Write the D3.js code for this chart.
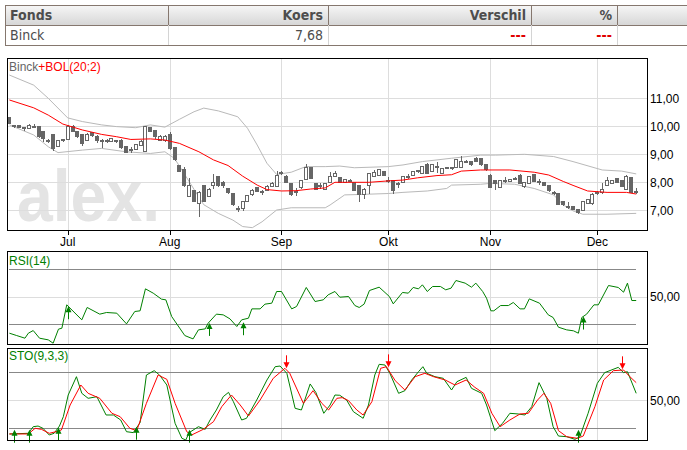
<!DOCTYPE html>
<html lang="nl">
<head>
<meta charset="utf-8">
<title>Binck</title>
<style>
  body { margin: 0; background: #fff; }
  svg text { font-family: "Liberation Sans", Arial, sans-serif; }
</style>
</head>
<body>
<svg id="chart" width="687" height="450"></svg>
<script src="https://cdn.jsdelivr.net/npm/d3@7"></script>
<script>
// ---- data ----
const tableHead = ["Fonds", "Koers", "Verschil", "%"];
const tableRow = ["Binck", "7,68", "---", "---"];

const monthLabels = ["Jul", "Aug", "Sep", "Okt", "Nov", "Dec"];
const monthStart = [12, 33, 56, 78, 99, 121];   // trading-day index of the 1st of the month

const open = [10.31,10.02,10.04,9.94,9.92,10.0,9.98,9.83,9.48,9.69,9.27,9.5,9.53,10.01,9.83,9.71,9.51,9.78,9.65,9.5,
  9.47,9.47,9.48,9.51,9.27,9.15,9.17,9.33,9.09,9.95,9.86,9.51,9.51,9.72,9.24,8.6,8.45,7.49,7.69,7.25,
  7.9,7.49,7.88,8.2,8.0,7.78,7.6,7.08,7.07,7.33,7.55,7.81,7.67,7.72,7.84,7.84,8.3,8.22,7.96,7.66,
  7.8,8.1,8.52,7.96,7.9,7.76,8.0,8.22,8.17,8.0,8.08,8.0,7.9,7.55,7.88,8.2,8.26,8.38,8.06,8.08,
  7.95,8.0,8.2,8.26,8.4,8.32,8.62,8.38,8.58,8.32,8.52,8.52,8.52,8.52,8.74,8.74,8.86,8.86,8.64,8.26,
  8.08,7.81,8.08,8.02,8.14,8.26,7.84,7.96,8.28,8.04,8.0,7.9,7.65,7.6,7.31,7.14,7.13,7.04,7.01,7.25,
  7.25,7.6,7.63,7.9,7.96,8.14,8.08,7.76,8.17,7.66];
const high = [10.34,10.03,10.05,9.95,10.08,10.08,9.99,9.85,9.55,9.7,9.52,9.55,10.03,10.03,9.85,9.73,9.75,9.8,9.68,9.53,
  9.55,9.6,9.52,9.53,9.29,9.25,9.37,9.5,10.02,9.97,9.88,9.68,9.68,9.8,9.26,8.62,8.55,8.14,7.72,7.7,
  7.92,7.8,8.28,8.24,8.05,7.8,7.62,7.17,7.35,7.55,7.75,7.84,7.72,7.9,8.0,8.4,8.4,8.26,7.98,7.78,
  8.1,8.65,8.55,7.98,7.96,7.98,8.38,8.4,8.2,8.12,8.12,8.02,7.92,7.78,8.32,8.45,8.48,8.4,8.2,8.1,
  8.0,8.24,8.3,8.42,8.45,8.6,8.68,8.64,8.72,8.5,8.56,8.56,8.82,8.95,8.78,8.76,8.9,8.88,8.66,8.28,
  8.1,8.1,8.2,8.13,8.2,8.28,8.02,8.22,8.3,8.12,8.02,7.92,7.7,7.62,7.33,7.3,7.15,7.06,7.33,7.4,
  7.62,7.7,7.98,8.2,8.1,8.16,8.1,8.26,8.19,7.78];
const low = [10.08,9.95,9.93,9.83,9.9,9.97,9.6,9.45,9.4,9.12,9.25,9.45,9.5,9.8,9.6,9.3,9.48,9.62,9.4,9.24,
  9.42,9.45,9.42,9.2,9.04,9.05,9.15,9.3,9.07,9.8,9.55,9.48,9.45,9.15,8.75,8.36,7.85,7.47,7.28,6.77,
  7.3,7.47,7.75,7.85,7.8,7.6,7.15,6.95,6.98,7.3,7.52,7.64,7.55,7.7,7.82,7.82,8.25,7.98,7.52,7.52,
  7.75,8.08,8.12,7.74,7.75,7.74,7.98,8.2,7.98,7.98,8.0,7.7,7.28,7.42,7.6,8.18,8.24,8.24,7.98,7.6,
  7.8,7.98,8.12,8.24,8.33,8.3,8.3,8.36,8.32,8.3,8.46,8.45,8.5,8.5,8.68,8.6,8.72,8.6,8.42,7.78,
  7.72,7.78,7.98,8.0,8.08,7.94,7.78,7.94,8.02,7.9,7.86,7.67,7.55,7.18,7.17,7.05,7.02,6.86,6.99,7.23,
  7.2,7.55,7.6,7.88,7.94,7.98,7.84,7.74,7.62,7.6];
const close = [10.11,10.0,9.95,9.93,10.02,10.01,9.63,9.57,9.47,9.22,9.51,9.52,10.01,9.83,9.63,9.39,9.71,9.66,9.51,9.49,
  9.48,9.57,9.49,9.24,9.07,9.17,9.35,9.47,9.98,9.83,9.63,9.65,9.65,9.21,8.83,8.38,7.88,7.9,7.31,7.64,
  7.33,7.75,8.0,7.9,7.88,7.62,7.19,7.07,7.33,7.52,7.72,7.66,7.66,7.86,7.96,8.26,8.35,8.0,7.55,7.67,
  8.08,8.52,8.14,7.76,7.88,7.96,8.2,8.31,8.0,8.1,8.07,7.72,7.57,7.76,8.3,8.36,8.44,8.26,8.05,7.69,
  7.94,8.22,8.2,8.4,8.41,8.58,8.32,8.62,8.57,8.48,8.53,8.52,8.8,8.74,8.74,8.62,8.74,8.62,8.44,7.81,
  7.96,8.08,8.07,8.11,8.13,7.96,8.0,8.2,8.04,8.03,7.88,7.69,7.64,7.21,7.19,7.13,7.04,6.93,7.31,7.37,
  7.58,7.65,7.74,8.08,8.08,8.0,7.86,8.2,7.64,7.68];

// Bollinger (20;2): [day index, value]
const bolUpper = [[0,11.83],[5,11.47],[8,11.0],[12,10.3],[15,10.17],[19,10.05],[22,9.99],[26,9.95],[29,10.05],[32,9.97],
  [35,10.25],[38,10.52],[40,10.65],[43,10.55],[47,10.34],[49,9.93],[51,9.33],[53,8.68],[55,8.28],[58,8.36],[61,8.56],
  [65,8.56],[68,8.58],[71,8.52],[78,8.56],[81,8.62],[85,8.74],[91,8.86],[97,8.97],[100,8.97],[106,9.0],[112,8.92],
  [116,8.74],[122,8.44],[126,8.4],[129,8.3]];
const bolMiddle = [[0,10.94],[5,10.66],[8,10.4],[11,10.08],[15,9.87],[19,9.71],[22,9.63],[25,9.53],[29,9.55],[32,9.51],
  [35,9.39],[39,9.09],[42,8.8],[45,8.6],[48,8.22],[51,7.9],[53,7.74],[56,7.69],[59,7.7],[62,7.76],[65,7.8],[67,8.0],
  [71,8.0],[74,8.0],[78,8.05],[81,8.08],[84,8.16],[88,8.24],[91,8.27],[93,8.4],[97,8.44],[103,8.44],[108,8.36],
  [111,8.26],[114,8.03],[116,7.89],[119,7.69],[123,7.64],[127,7.64],[129,7.58]];
const bolLower = [[0,10.05],[5,9.69],[8,9.27],[10,9.06],[15,9.15],[19,9.21],[24,9.09],[29,9.03],[32,9.09],[34,8.85],
  [36,8.3],[38,7.75],[40,7.2],[43,6.89],[46,6.65],[48,6.42],[50,6.38],[52,6.59],[55,7.01],[58,7.09],[65,7.09],[66,7.19],
  [69,7.55],[73,7.57],[78,7.6],[81,7.64],[86,7.69],[90,7.78],[91,7.9],[97,7.93],[99,7.96],[104,7.93],[108,7.78],
  [112,7.55],[114,7.19],[116,6.98],[118,6.86],[123,6.86],[129,6.89]];

// RSI(14): [day index, value]
const rsi = [[0,23.6],[1.5,21.9],[3.2,20],[3.9,23.6],[4.9,25.5],[6.2,20],[8,18.8],[9,16.4],[10.1,26.5],[10.8,27.2],
  [11.8,44],[14.9,33.2],[16,42.1],[18.6,37.3],[20,38.5],[22.1,38],[24.1,30.3],[25.8,39.2],[26.9,39.7],[28,55.5],
  [29.6,52.4],[31.3,48.1],[32.2,47.6],[33.4,35.6],[36.1,21.9],[37.8,19.5],[38.9,26],[40.3,26.7],[40.9,30.8],[42.6,37.3],
  [44,36.8],[45.4,33.9],[46.8,28.4],[47.8,33.2],[49.2,34.4],[49.9,41.1],[51.6,41.1],[52.6,44.5],[54,45.2],[55,53.6],
  [56,53.6],[58.1,41.1],[59.1,42.8],[61.1,56.5],[62.9,46.4],[64.6,47.6],[65.6,51.2],[67,53.6],[68,49.5],[69.8,50],
  [71.1,43.5],[72,42.1],[73,44.5],[74.1,54.3],[76.1,56.7],[78.2,50],[79,44.7],[80.9,52.9],[82.1,52.4],[83.1,56.5],
  [84.2,55.5],[85,58.4],[86,53.6],[87.1,57.2],[88.7,57.2],[89.8,54.8],[90.9,56],[91.9,61.5],[93.8,59.6],[95.1,56.7],
  [96,59.6],[97.4,53.6],[98.2,48.8],[99.1,39.7],[99.7,39.7],[101.1,43.5],[102.7,43.5],[103.7,45.7],[105.1,41.1],
  [106,41.1],[107,48.3],[109.1,45.2],[110.9,36.8],[111.9,34.9],[113,27.9],[114.7,26],[116.1,25.3],[117.1,23.6],
  [117.8,34.9],[118.8,37.3],[120.3,44],[121.2,44],[123.3,57.9],[125.3,56.5],[126.4,53.1],[127.2,59.6],[128.1,47.1],[129,47.1]];
const rsiBuy = [[12,43],[41,31],[48,31.5],[118,35.6]];

// STO(9,3,3): %K green, %D red
const stoK = [[0,14],[3.9,14.7],[4.9,21.7],[5.9,22.4],[6.9,20],[8.2,12.9],[9.2,14.7],[10.3,22.4],[11.1,32.3],[12.1,55.3],
  [13.8,74.7],[14.9,57.1],[16.2,51.8],[18,53.5],[19.9,34.1],[21.4,34.1],[22.9,28.8],[24.1,16.4],[25.5,15.4],[26.9,26],
  [28.2,76.5],[29.8,81.1],[30.9,76.5],[32.4,65.9],[34.1,25.3],[35.5,9.4],[36.3,7.6],[37,15.4],[38.9,21.7],[40.3,18.9],
  [41.3,28.8],[42.6,39.4],[44,53.5],[45.1,58.1],[46.1,48.2],[47.8,28.8],[48.8,30.6],[50.9,50],[53,71.2],[54.7,85.3],
  [55.7,86],[57.1,78.3],[58.8,41.2],[60.1,39.4],[61.9,67],[63.1,57.8],[64.7,35.9],[66,44.7],[67,55.3],[68,55],
  [69.4,50],[70.8,37.6],[72.8,30.6],[73.9,44.7],[75.2,76.5],[76.1,87.8],[77.3,87.1],[78.3,78.3],[80.1,57.1],[81.4,59.9],
  [82.8,71.2],[84.2,80],[85.1,85.3],[85.9,78.3],[87.6,74.7],[89.3,73],[91,60.6],[92.1,69.4],[94,74],[95.1,62.4],
  [97.2,57.1],[98.2,44.7],[99.9,17.5],[101.5,25.3],[103,35.9],[104.7,35.2],[106.1,34.1],[107.5,42.9],[109,68.4],
  [110.6,51.8],[111.9,21.7],[113,11.8],[114.7,11.1],[116.4,8.3],[117.4,11.1],[119.1,35.9],[121,67.7],[122.5,79],
  [125.3,84.6],[126.4,79],[127.2,80],[129,57.1]];
const stoD = [[0,14],[3.9,14],[5.3,20],[6.6,18.9],[8.2,14.7],[9.6,16.4],[10.7,18.2],[12.5,44.7],[14.7,65.9],[16.2,57.1],
  [18.6,51.8],[21.1,35.9],[22.8,32.3],[24.8,20],[26.2,17.5],[28.2,46.5],[30.6,76.5],[32.4,71.9],[34.1,46.5],[36.5,16.4],
  [37.5,12.9],[39.9,18.9],[42,27],[43.7,42.9],[45.7,55.3],[47.5,44.7],[49.2,33],[51.6,50],[54.3,73],[56.7,83.6],
  [57.7,78.3],[60.5,46.5],[62.5,59.9],[64.3,46.5],[65.7,39.4],[67.4,51.8],[68.5,52.5],[69.8,49.3],[71.5,39.4],[72.8,34.1],
  [74.6,48.2],[76.4,83.6],[77.6,85.3],[79.4,70.5],[81.4,60.6],[83.5,74.7],[85.5,78.3],[87.3,74.7],[89.7,71.2],[91.7,65.9],
  [94,71.2],[95.8,63.4],[97.6,57.1],[99.3,35.9],[101,21.7],[103,28.8],[105.1,35.2],[106.8,35.9],[108.7,50],[110,57.1],
  [111.4,46.5],[113,17.5],[114.7,11.1],[116.9,9.4],[118.1,11.8],[120.5,42.9],[122.3,71.2],[124.3,81.1],[126.4,81.8],
  [127.7,74.7],[129,68.4]];
const stoBuy = [[1,18.5],[4,18.5],[10,20.5],[26,21.7],[37,18.5],[117,18.5]];
const stoSell = [[57,83.6],[78,84.6],[126,82.5]];

// ---- layout ----
const svg = d3.select("#chart");
const left = 7, right = 648;
const main = {top: 58, bottom: 231};
const pRsi = {top: 251, bottom: 345};
const pSto = {top: 348, bottom: 441};

const x = d3.scaleLinear().domain([0, 129]).range([9.4, 636.2]);
const y = d3.scaleLinear().domain([7, 11]).range([210.3, 98.3]);
const yRsi = d3.scaleLinear().domain([30, 70]).range([324.3, 268.7]);
const ySto = d3.scaleLinear().domain([20, 80]).range([428.3, 371.7]);

const nl = d3.formatLocale({decimal: ",", thousands: ".", grouping: [3], currency: ["€", ""]});
const fmt = nl.format(".2f");

// ---- table ----
const cols = [5, 168, 328, 531, 617, 700];
const tTop = 5, tMid = 25, tBot = 45;
const defs = svg.append("defs");
const grad = defs.append("linearGradient").attr("id", "hdr").attr("x1", 0).attr("y1", 0).attr("x2", 0).attr("y2", 1);
grad.append("stop").attr("offset", "0%").attr("stop-color", "#f6f6f6");
grad.append("stop").attr("offset", "100%").attr("stop-color", "#d6d6d6");

const tbl = svg.append("g").attr("shape-rendering", "crispEdges");
tbl.append("rect").attr("x", cols[0] + 0.5).attr("y", tTop + 0.5).attr("width", 700).attr("height", tMid - tTop)
  .attr("fill", "url(#hdr)");
tbl.append("rect").attr("x", cols[0] + 0.5).attr("y", tTop + 0.5).attr("width", 700).attr("height", tBot - tTop)
  .attr("fill", "none").attr("stroke", "#85776e");
tbl.append("line").attr("x1", cols[0]).attr("x2", 687).attr("y1", tMid + 0.5).attr("y2", tMid + 0.5).attr("stroke", "#85776e");
cols.slice(1, 5).forEach(c => {
  tbl.append("line").attr("x1", c + 0.5).attr("x2", c + 0.5).attr("y1", tTop).attr("y2", tMid).attr("stroke", "#85776e");
  tbl.append("line").attr("x1", c + 0.5).attr("x2", c + 0.5).attr("y1", tMid).attr("y2", tBot).attr("stroke", "#d4d4d4");
});
const tFont = '"Liberation Sans Narrow", "Arial Narrow", "DejaVu Sans Condensed", sans-serif';
tableHead.forEach((t, k) => {
  const a = k === 0;
  svg.append("text").attr("x", a ? cols[0] + 5 : cols[k + 1] - 5).attr("y", 20)
    .attr("text-anchor", a ? "start" : "end").style("font-family", tFont)
    .attr("font-size", 14).attr("font-weight", "bold").attr("fill", "#4d4d4d").text(t);
});
tableRow.forEach((t, k) => {
  const a = k === 0;
  svg.append("text").attr("x", a ? cols[0] + 5 : cols[k + 1] - 5).attr("y", 40)
    .attr("text-anchor", a ? "start" : "end").style("font-family", tFont)
    .attr("font-size", 14).attr("font-weight", k >= 2 ? "bold" : "normal")
    .attr("fill", k >= 2 ? "#e00000" : "#4d4d4d").text(t);
});

// ---- panel frames / grids ----
function panel(p, yTicks, ys) {
  const g = svg.append("g").attr("shape-rendering", "crispEdges");
  g.selectAll(".vg").data(monthStart).join("line")
    .attr("x1", d => Math.round(x(d)) + 0.5).attr("x2", d => Math.round(x(d)) + 0.5)
    .attr("y1", p.top).attr("y2", p.bottom).attr("stroke", "#dddddd");
  g.selectAll(".hg").data(yTicks).join("line")
    .attr("x1", left).attr("x2", right)
    .attr("y1", d => Math.round(ys(d)) + 0.5).attr("y2", d => Math.round(ys(d)) + 0.5)
    .attr("stroke", "#dddddd");
  return g;
}
function frame(p) {
  svg.append("rect").attr("x", left + 0.5).attr("y", p.top + 0.5)
    .attr("width", right - left - 1).attr("height", p.bottom - p.top - 1)
    .attr("fill", "none").attr("stroke", "#000").attr("shape-rendering", "crispEdges");
}
function yLabels(vals, ys) {
  svg.append("g").selectAll("text").data(vals).join("text")
    .attr("x", right + 2).attr("y", d => ys(d) + 4.5)
    .attr("font-size", 12).attr("fill", "#000").text(d => fmt(d));
}

// main panel
svg.append("text").attr("x", 17).attr("y", 221).attr("font-size", 72).attr("font-weight", "bold")
  .attr("fill", "#e4e4e4").attr("textLength", 143).attr("lengthAdjust", "spacingAndGlyphs")
  .style("font-family", "Arial, 'Liberation Sans', sans-serif").text("alex.");
panel(main, [7, 8, 9, 10, 11], y);

defs.append("clipPath").attr("id", "clipMain").append("rect")
  .attr("x", left).attr("y", main.top).attr("width", right - left).attr("height", main.bottom - main.top);
const gm = svg.append("g").attr("clip-path", "url(#clipMain)");

const band = d3.line().x(d => x(d[0])).y(d => y(d[1]));
gm.append("path").attr("d", band(bolUpper)).attr("fill", "none").attr("stroke", "#b9b9b9");
gm.append("path").attr("d", band(bolLower)).attr("fill", "none").attr("stroke", "#b9b9b9");

const candles = d3.range(close.length);
const gc = gm.append("g").attr("shape-rendering", "crispEdges");
gc.selectAll("line").data(candles).join("line")
  .attr("x1", i => Math.round(x(i)) + 0.5).attr("x2", i => Math.round(x(i)) + 0.5)
  .attr("y1", i => y(high[i])).attr("y2", i => y(low[i])).attr("stroke", "#666");
gc.selectAll("rect").data(candles).join("rect")
  .attr("x", i => Math.round(x(i)) - 1.5)
  .attr("y", i => y(Math.max(open[i], close[i])))
  .attr("width", 3)
  .attr("height", i => Math.max(1, y(Math.min(open[i], close[i])) - y(Math.max(open[i], close[i]))))
  .attr("fill", i => close[i] >= open[i] ? "#fff" : "#666")
  .attr("stroke", "#666");

gm.append("path").attr("d", band(bolMiddle)).attr("fill", "none").attr("stroke", "#ff0000");

frame(main);
svg.append("g").selectAll("line").data(monthStart).join("line")
  .attr("x1", d => Math.round(x(d)) + 0.5).attr("x2", d => Math.round(x(d)) + 0.5)
  .attr("y1", main.bottom).attr("y2", main.bottom + 4).attr("stroke", "#000").attr("shape-rendering", "crispEdges");
svg.append("g").selectAll("text").data(monthLabels).join("text")
  .attr("x", (d, k) => x(monthStart[k])).attr("y", 246).attr("text-anchor", "middle")
  .attr("font-size", 12).attr("fill", "#000").text(d => d);
yLabels([7, 8, 9, 10, 11], y);
const title = svg.append("text").attr("x", 9).attr("y", 70.5).attr("font-size", 12);
title.append("tspan").attr("fill", "#666").text("Binck");
title.append("tspan").attr("fill", "#f00").text("+BOL(20;2)");

// arrows
function arrowUp(g, px, py, col) {
  g.append("line").attr("x1", px).attr("x2", px).attr("y1", py + 2).attr("y2", py + 13).attr("stroke", col);
  g.append("path").attr("d", `M${px},${py} L${px - 3},${py + 6} L${px + 3},${py + 6} Z`).attr("fill", col);
}
function arrowDown(g, px, py, col) {
  g.append("line").attr("x1", px).attr("x2", px).attr("y1", py - 13).attr("y2", py - 2).attr("stroke", col);
  g.append("path").attr("d", `M${px},${py} L${px - 3},${py - 6} L${px + 3},${py - 6} Z`).attr("fill", col);
}

// RSI panel
panel(pRsi, [50], yRsi);
const gr = svg.append("g");
[70, 30].forEach(v => gr.append("line").attr("x1", x(0)).attr("x2", x(129))
  .attr("y1", Math.round(yRsi(v)) + 0.5).attr("y2", Math.round(yRsi(v)) + 0.5)
  .attr("stroke", "#888").attr("shape-rendering", "crispEdges"));
gr.append("path").attr("d", d3.line().x(d => x(d[0])).y(d => yRsi(d[1]))(rsi))
  .attr("fill", "none").attr("stroke", "#008000");
rsiBuy.forEach(d => arrowUp(gr, Math.round(x(d[0])) + 0.5, yRsi(d[1]), "#008000"));
frame(pRsi);
yLabels([50], yRsi);
svg.append("text").attr("x", 9).attr("y", 264.5).attr("font-size", 12).attr("fill", "#008000").text("RSI(14)");

// STO panel
panel(pSto, [50], ySto);
const gs = svg.append("g");
[80, 20].forEach(v => gs.append("line").attr("x1", x(0)).attr("x2", x(129))
  .attr("y1", Math.round(ySto(v)) + 0.5).attr("y2", Math.round(ySto(v)) + 0.5)
  .attr("stroke", "#888").attr("shape-rendering", "crispEdges"));
const sl = d3.line().x(d => x(d[0])).y(d => ySto(d[1]));
gs.append("path").attr("d", sl(stoK)).attr("fill", "none").attr("stroke", "#008000");
gs.append("path").attr("d", sl(stoD)).attr("fill", "none").attr("stroke", "#ff0000");
stoBuy.forEach(d => arrowUp(gs, Math.round(x(d[0])) + 0.5, ySto(d[1]), "#008000"));
stoSell.forEach(d => arrowDown(gs, Math.round(x(d[0])) + 0.5, ySto(d[1]), "#ff0000"));
frame(pSto);
yLabels([50], ySto);
svg.append("text").attr("x", 9).attr("y", 359.5).attr("font-size", 12).attr("fill", "#008000").text("STO(9,3,3)");
</script>
</body>
</html>
